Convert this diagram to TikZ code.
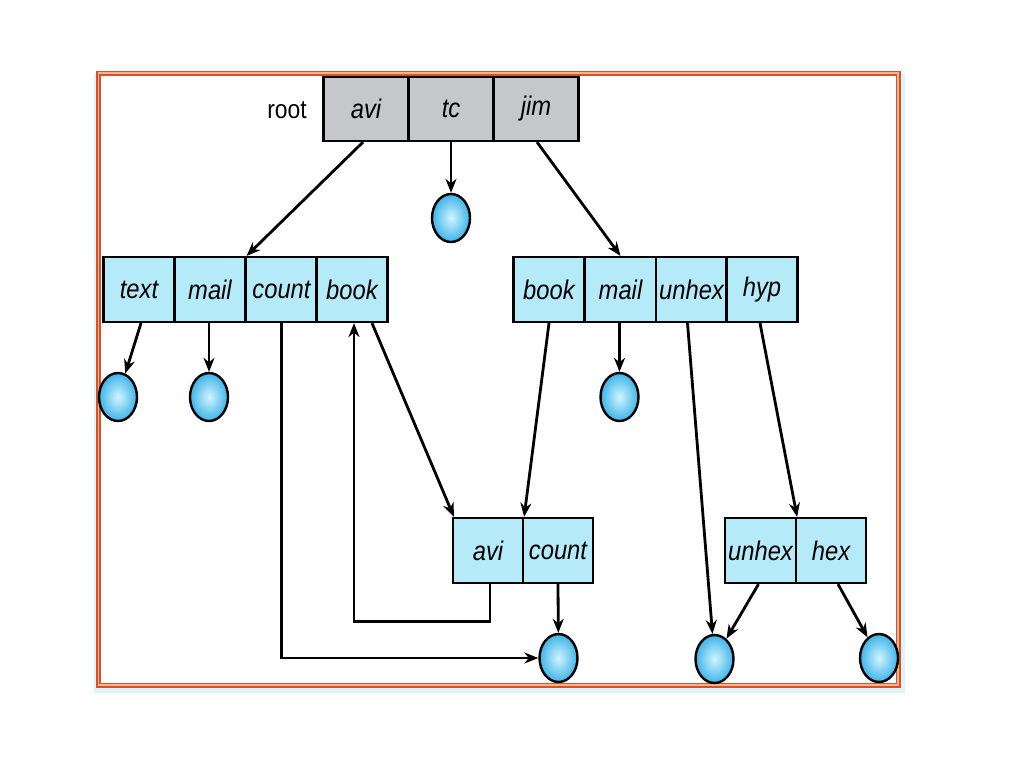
\documentclass[tikz,border=0pt]{standalone}
\usepackage{fontspec}
\setmainfont{Liberation Sans}
\usetikzlibrary{arrows.meta,shapes.geometric,calc}
\definecolor{cellblue}{HTML}{B5EAF9}
\definecolor{cellgray}{HTML}{C5C7C9}
\definecolor{framered}{HTML}{D4532A}
\definecolor{framelight}{HTML}{F6B38C}
\definecolor{fringe}{HTML}{DDF5FA}
\definecolor{fileinner}{HTML}{D2F4FF}
\definecolor{fileouter}{HTML}{3DB4E8}
\newcommand\lbl[1]{\scalebox{0.88}[1]{#1}}
\begin{document}
\begin{tikzpicture}[x=1pt,y=-1pt,
  cell/.style={draw=black,line width=2.2pt,fill=cellblue,minimum width=71pt,minimum height=65pt,inner sep=0pt,
    font=\fontsize{27}{30}\selectfont\itshape},
  rcell/.style={cell,fill=cellgray,minimum width=85pt,minimum height=64pt},
  file/.style={ellipse,draw=black,line width=2.4pt,minimum width=38pt,minimum height=48pt,inner sep=0pt,
    shading=radial,inner color=fileinner,outer color=fileouter},
  arr/.style={line width=2.8pt,-{Stealth[length=14pt,width=11pt]}},
  ln/.style={line width=2.8pt}]
\useasboundingbox (0,0) rectangle (1024,768);
% frame
\fill[fringe] (94,74) rectangle (905,693);
\fill[white] (98.5,73) rectangle (898,685);
\draw[framered,line width=5pt] (98.5,73) rectangle (898,685);
\draw[framelight,line width=1.4pt] (98.5,73) rectangle (898,685);
% root
\node[font=\fontsize{26}{30}\selectfont] (root) at (287,110) {\lbl{root}};
\node[rcell] (ravi) at (366,109) {\lbl{avi}};
\node[rcell] (rtc) at (451,109) {\lbl{tc}};
\node[rcell] (rjim) at (536,109) {\lbl{jim}};
% left directory
\node[cell] (ltext) at (139,289.5) {\lbl{text}};
\node[cell] (lmail) at (210,289.5) {\lbl{mail}};
\node[cell] (lcount) at (281.5,289.5) {\lbl{count}};
\node[cell] (lbook) at (352,289.5) {\lbl{book}};
% right directory
\node[cell] (rbook) at (549,289.5) {\lbl{book}};
\node[cell] (rmail) at (620.5,289.5) {\lbl{mail}};
\node[cell] (runhex) at (691.5,289.5) {\lbl{unhex}};
\node[cell] (rhyp) at (762,289.5) {\lbl{hyp}};
% lower middle
\node[cell,minimum width=70pt] (mavi) at (488,550.5) {\lbl{avi}};
\node[cell,minimum width=70pt] (mcount) at (558,550.5) {\lbl{count}};
% lower right
\node[cell,minimum width=71pt] (bunhex) at (760.5,550.5) {\lbl{unhex}};
\node[cell,minimum width=70pt] (bhex) at (831,550.5) {\lbl{hex}};
% files
\node[file] (ftc) at (451,218) {};
\node[file] (ftext) at (118,397) {};
\node[file] (fmail) at (209,397) {};
\node[file] (frmail) at (619.5,397) {};
\node[file] (fcount) at (558.5,658) {};
\node[file] (funhex) at (714.5,659) {};
\node[file] (fhex) at (879,658) {};
% connectors
\draw[arr] ($(ravi.south)+(-3,0)$) -- (lmail.north east);
\draw[arr] (rtc.south) -- (ftc);
\draw[arr] ($(rjim.south)+(1,0)$) -- (rmail.north);
\draw[arr] ($(ltext.south)+(2,0)$) -- (ftext);
\draw[arr] ($(lmail.south)+(-1,0)$) -- (fmail);
\draw[arr] (lcount.south) |- (fcount);
\draw[arr] ($(lbook.south)+(20,0)$) -- ($(mavi.north west)+(2,0)$);
\draw[arr] ($(mavi.south)+(2,0)$) -- ++(0,37) -| ($(lbook.south)+(2,0)$);
\draw[arr] (mcount.south) -- (fcount);
\draw[arr] (rbook.south) -- (mavi.north east);
\draw[arr] ($(rmail.south)+(-1,0)$) -- (frmail);
\draw[arr] ($(runhex.south)+(-4,0)$) -- (funhex);
\draw[arr] ($(rhyp.south)+(-2,0)$) -- (bunhex.north east);
\draw[arr] ($(bunhex.south)+(-2,0)$) -- (funhex);
\draw[arr] ($(bhex.south)+(7,0)$) -- (fhex);
\end{tikzpicture}
\end{document}
